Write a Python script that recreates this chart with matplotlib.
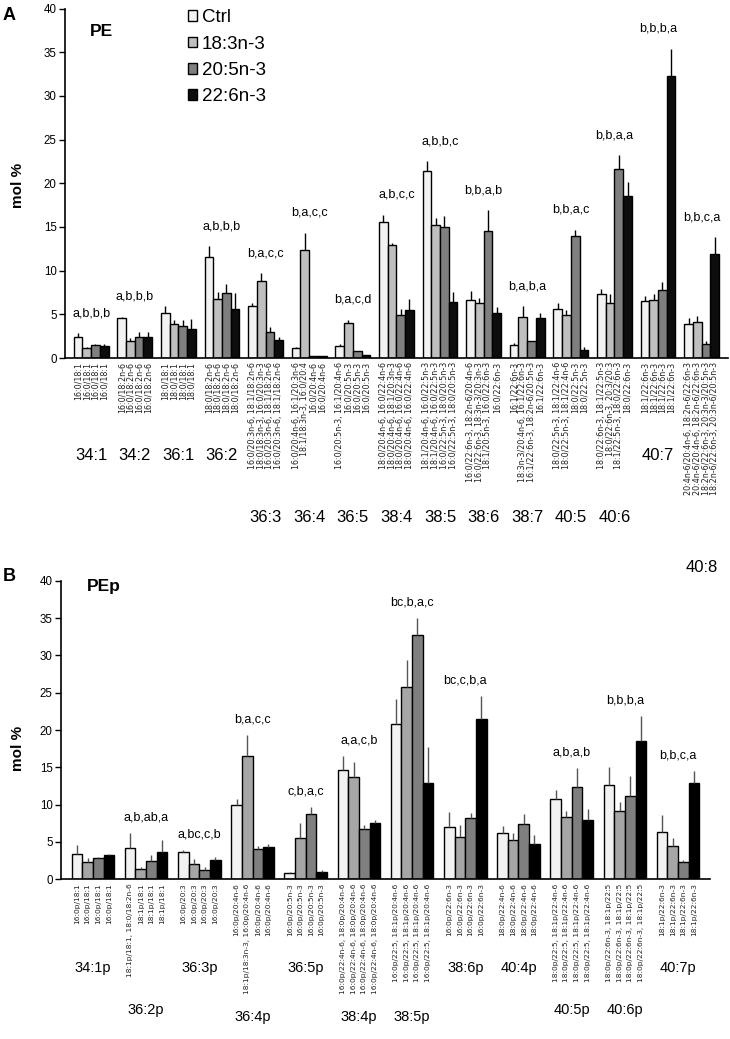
import matplotlib
matplotlib.use("Agg")
import matplotlib.pyplot
import matplotlib.transforms
import numpy

matplotlib.pyplot.rcParams["font.family"] = ["Liberation Sans", "DejaVu Sans"]

series_names = ["Ctrl", "18:3n-3", "20:5n-3", "22:6n-3"]

# ---- panel A : PE ----
pe_groups = ["34:1", "34:2", "36:1", "36:2", "36:3", "36:4", "36:5", "38:4",
	"38:5", "38:6", "38:7", "40:5", "40:6", "40:7", "40:8"]
pe_ctrl = [2.4, 4.6, 5.2, 11.6, 6.0, 1.1, 1.35, 15.6, 21.4, 6.65, 1.5, 5.6, 7.3, 6.5, 3.9]
pe_ala = [1.1, 2.0, 3.9, 6.8, 8.8, 12.4, 4.0, 12.9, 15.2, 6.35, 4.7, 4.9, 6.35, 6.65, 4.15]
pe_epa = [1.5, 2.4, 3.7, 7.4, 3.0, 0.25, 0.75, 4.9, 15.0, 14.5, 1.9, 14.0, 21.6, 7.8, 1.6]
pe_dha = [1.35, 2.4, 3.3, 5.65, 2.1, 0.25, 0.3, 5.5, 6.4, 5.2, 4.6, 0.9, 18.5, 32.3, 11.9]
pe_ctrl_err = [0.45, 0.1, 0.8, 1.2, 0.25, 0.2, 0.2, 0.8, 1.1, 1.05, 0.25, 0.75, 0.6, 0.6, 0.7]
pe_ala_err = [0.15, 0.25, 0.5, 0.8, 0.9, 1.9, 0.4, 0.25, 0.8, 0.55, 1.2, 0.6, 0.95, 0.65, 0.65]
pe_epa_err = [0.15, 0.6, 0.7, 1.1, 0.5, 0.0, 0.05, 0.75, 1.2, 2.4, 0.05, 0.7, 1.6, 0.85, 0.4]
pe_dha_err = [0.25, 0.6, 1.2, 1.8, 0.3, 0.0, 0.05, 1.2, 1.2, 0.6, 0.5, 0.4, 1.6, 3.1, 1.9]
pe_letters = ["a,b,b,b", "a,b,b,b", "", "a,b,b,b", "b,a,c,c", "b,a,c,c", "b,a,c,d", "a,b,c,c",
	"a,b,b,c", "b,b,a,b", "b,a,b,a", "b,b,a,c", "b,b,a,a", "b,b,b,a", "b,b,c,a"]
pe_species = [
	["16:0/18:1"] * 4,
	["16:0/18:2n-6"] * 4,
	["18:0/18:1"] * 4,
	["18:0/18:2n-6"] * 4,
	["16:0/20:3n-6, 18:1/18:2n-6", "18:0/18:3n-3, 16:0/20:3n-3",
		"16:0/20:3n-6, 18:1/18:2n-6", "16:0/20:3n-6, 18:1/18:2n-6"],
	["16:0/20:4n-6, 16:1/20:3n-6", "18:1/18:3n-3, 16:0/20:4", "16:0/20:4n-6", "16:0/20:4n-6"],
	["16:0/20:5n-3, 16:1/20:4n-6", "16:0/20:5n-3", "16:0/20:5n-3", "16:0/20:5n-3"],
	["18:0/20:4n-6, 16:0/22:4n-6", "18:0/20:4n-6, 18:1/20:3n-3",
		"18:0/20:4n-6, 16:0/22:4n-6", "18:0/20:4n-6, 16:0/22:4n-6"],
	["18:1/20:4n-6, 16:0/22:5n-3", "18:1/20:4n-6, 16:0/22:5n-3",
		"16:0/22:5n-3, 18:0/20:5n-3", "16:0/22:5n-3, 18:0/20:5n-3"],
	["16:0/22:6n-3, 18:2n-6/20:4n-6", "16:0/22:6n-3, 18:3n-3/20:3n-3",
		"18:1/20:5n-3, 16:0/22:6n-3", "16:0/22:6n-3"],
	["16:1/22:6n-3", "18:3n-3/20:4n-6, 16:1/22:6n-3",
		"16:1/22:6n-3, 18:2n-6/20:5n-3", "16:1/22:6n-3"],
	["18:0/22:5n-3, 18:1/22:4n-6", "18:0/22:5n-3, 18:1/22:4n-6", "18:0/22:5n-3", "18:0/22:5n-3"],
	["18:0/22:6n-3, 18:1/22:5n-3", "18:0/22:6n-3, 20:3/20:3",
		"18:1/22:5n-3, 18:0/22:6n-3", "18:0/22:6n-3"],
	["18:1/22:6n-3"] * 4,
	["20:4n-6/20:4n-6, 18:2n-6/22:6n-3", "20:4n-6/20:4n-6, 18:2n-6/22:6n-3",
		"18:2n-6/22:6n-3, 20:3n-3/20:5n-3", "18:2n-6/22:6n-3, 20:3n-6/20:5n-3"],
]

# ---- panel B : PEp ----
pep_groups = ["34:1p", "36:2p", "36:3p", "36:4p", "36:5p", "38:4p", "38:5p", "38:6p",
	"40:4p", "40:5p", "40:6p", "40:7p"]
pep_ctrl = [3.45, 4.2, 3.6, 9.9, 0.8, 14.6, 20.8, 7.0, 6.2, 10.75, 12.6, 6.3]
pep_ala = [2.35, 1.4, 2.1, 16.5, 5.5, 13.7, 25.7, 5.7, 5.3, 8.4, 9.2, 4.4]
pep_epa = [2.85, 2.5, 1.3, 4.1, 8.8, 6.7, 32.7, 8.2, 7.4, 12.3, 11.2, 2.3]
pep_dha = [3.2, 3.7, 2.6, 4.3, 1.0, 7.6, 12.85, 21.5, 4.7, 7.9, 18.5, 12.85]
pep_ctrl_err = [1.1, 2.0, 0.3, 0.9, 0.2, 1.9, 3.3, 2.0, 1.0, 1.25, 2.5, 2.3]
pep_ala_err = [0.55, 0.3, 0.6, 2.8, 2.0, 2.0, 3.7, 1.6, 0.9, 0.8, 1.1, 1.2]
pep_epa_err = [0.2, 0.75, 0.3, 0.4, 0.9, 0.6, 2.3, 0.7, 1.3, 2.6, 2.7, 0.3]
pep_dha_err = [0.2, 1.5, 0.4, 0.4, 0.2, 0.4, 4.9, 3.0, 1.3, 1.5, 3.4, 1.65]
pep_letters = ["", "a,b,ab,a", "a,bc,c,b", "b,a,c,c", "c,b,a,c", "a,a,c,b", "bc,b,a,c",
	"bc,c,b,a", "", "a,b,a,b", "b,b,b,a", "b,b,c,a"]
pep_species = [
	["16:0p/18:1"] * 4,
	["18:1p/18:1, 18:0/18:2n-6", "18:1p/18:1", "18:1p/18:1", "18:1p/18:1"],
	["16:0p/20:3"] * 4,
	["16:0p/20:4n-6", "18:1p/18:3n-3, 16:0p/20:4n-6", "16:0p/20:4n-6", "16:0p/20:4n-6"],
	["16:0p/20:5n-3"] * 4,
	["16:0p/22:4n-6, 18:0p/20:4n-6"] * 4,
	["16:0p/22:5, 18:1p/20:4n-6"] * 4,
	["16:0p/22:6n-3"] * 4,
	["18:0p/22:4n-6"] * 4,
	["18:0p/22:5, 18:1p/22:4n-6"] * 4,
	["18:0p/22:6n-3, 18:1p/22:5"] * 4,
	["18:1p/22:6n-3"] * 4,
]

# layout: which row each group name sits on under the axis
pe_level = [0, 0, 0, 0, 1, 1, 1, 1, 1, 1, 1, 1, 1, 0, 2]
pep_level = [0, 1, 0, 2, 0, 2, 2, 0, 0, 1, 1, 0]


def draw_panel(figure, rect, groups, means, errors, species, letters, level, level_y,
		colors, err_color, letter_gap, group_size, tick_size):
	axes = figure.add_axes(rect)
	width = 0.2
	centers = numpy.arange(len(groups))
	positions = []
	names = []
	for k in range(4):
		x = centers + (k - 1.5) * width
		axes.bar(x, means[k], width, color = colors[k], edgecolor = "black", linewidth = 1.0,
			yerr = [numpy.zeros(len(groups)), errors[k]],
			error_kw = dict(ecolor = err_color, elinewidth = 1.0, capsize = 0), zorder = 2)
	for g in range(len(groups)):
		for k in range(4):
			positions.append(centers[g] + (k - 1.5) * width)
			names.append(species[g][k])

	axes.set_xlim(-0.6, len(groups) - 0.4)
	axes.set_ylim(0, 40)
	axes.set_yticks(numpy.arange(0, 41, 5))
	axes.set_xticks(positions)
	axes.set_xticklabels(names, rotation = 90, fontsize = tick_size, color = "#222222",
		family = "DejaVu Sans")
	axes.tick_params(axis = "x", length = 0, pad = 3)
	axes.tick_params(axis = "y", length = 4, width = 1.0, labelsize = 8.3, pad = 2)
	axes.spines["top"].set_visible(False)
	axes.spines["right"].set_visible(False)
	axes.spines["left"].set_linewidth(1.2)
	axes.spines["bottom"].set_linewidth(1.2)

	tops = numpy.max(numpy.array(means) + numpy.array(errors), axis = 0)
	for g in range(len(groups)):
		if letters[g]:
			axes.text(centers[g], tops[g] + letter_gap, letters[g], ha = "center", va = "center",
				fontsize = 9)

	blend = matplotlib.transforms.blended_transform_factory(axes.transData, axes.transAxes)
	for g in range(len(groups)):
		axes.text(centers[g], level_y[level[g]], groups[g], transform = blend, ha = "center",
			va = "center", fontsize = group_size, clip_on = False)
	return axes


figure = matplotlib.pyplot.figure(figsize = (7.3, 10.39), dpi = 100)

axes_a = draw_panel(
	figure, [0.089, 0.6554, 0.908, 0.3364], pe_groups,
	[pe_ctrl, pe_ala, pe_epa, pe_dha],
	[pe_ctrl_err, pe_ala_err, pe_epa_err, pe_dha_err],
	pe_species, pe_letters, pe_level, [-0.2775, -0.455, -0.598],
	["#f2f2f2", "#bfbfbf", "#7f7f7f", "#0d0d0d"], "black", 2.3, 12, 5.8)
axes_a.text(0.038, 0.921, "PE", transform = axes_a.transAxes, fontsize = 12.5,
	fontweight = "bold", va = "baseline")
handles = [matplotlib.patches.Patch(facecolor = c, edgecolor = "black", linewidth = 1.0)
	for c in ["#f2f2f2", "#bfbfbf", "#7f7f7f", "#0d0d0d"]]
axes_a.legend(handles, series_names, loc = "upper left", bbox_to_anchor = (0.185, 0.998),
	frameon = False, fontsize = 13.5, handlelength = 0.5, handleheight = 0.5,
	handletextpad = 0.25, labelspacing = 0.5, borderpad = 0, borderaxespad = 0)

axes_b = draw_panel(
	figure, [0.0836, 0.1537, 0.889, 0.2874], pep_groups,
	[pep_ctrl, pep_ala, pep_epa, pep_dha],
	[pep_ctrl_err, pep_ala_err, pep_epa_err, pep_dha_err],
	pep_species, pep_letters, pep_level, [-0.297, -0.438, -0.462],
	["#f2f2f2", "#a6a6a6", "#7f7f7f", "#000000"], "#555555", 2.1, 10.5, 5.4)
axes_b.text(0.040, 0.9655, "PEp", transform = axes_b.transAxes, fontsize = 12.5,
	fontweight = "bold", va = "baseline")

figure.text(0.025, 0.822, "mol %", rotation = 90, fontsize = 11, fontweight = "bold",
	ha = "center", va = "center")
figure.text(0.025, 0.28, "mol %", rotation = 90, fontsize = 11, fontweight = "bold",
	ha = "center", va = "center")
figure.text(0.012, 0.9855, "A", fontsize = 13, fontweight = "bold", ha = "center", va = "center")
figure.text(0.012, 0.4447, "B", fontsize = 13, fontweight = "bold", ha = "center", va = "center")

figure.savefig("out.png", dpi = 100)
